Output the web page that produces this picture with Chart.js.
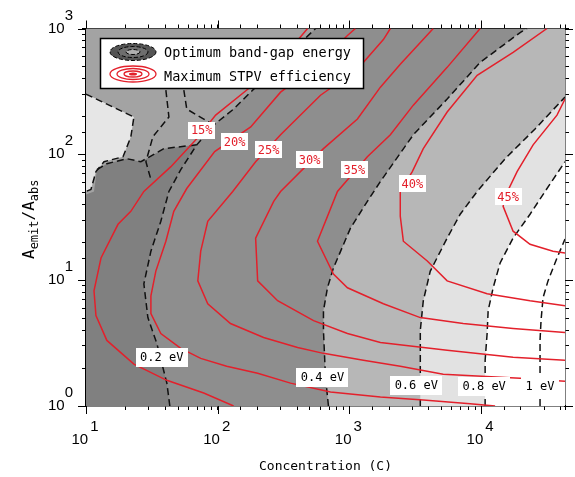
<!DOCTYPE html>
<html>
<head>
<meta charset="utf-8">
<script src="https://cdn.jsdelivr.net/npm/chart.js@4.4.1/dist/chart.umd.min.js"></script>
<style>
  html, body { margin: 0; padding: 0; background: #fff; }
  #wrap { width: 575px; height: 477px; }
</style>
</head>
<body>
<div id="wrap"><canvas id="chart" width="575" height="477"></canvas></div>
<script>
// axis limits
const xMin = 10, xMax = 43300;
const yMin = 1, yMax = 1000;

// Maximum STPV efficiency contours, [concentration, A_emit/A_abs]
const eff15 = [[481,1000],[300,558],[169,329],[96.5,205],[69.3,133],[44.1,79.8],[27.5,50.7],[21.9,35.2],[17.5,27.8],[13.0,15.0],[11.5,8.23],[11.9,5.23],[14.4,3.32],[23.1,2.15],[41.1,1.60],[78.3,1.27],[132,1]];
const eff20 = [[1110,1000],[966,879],[603,538],[300,312],[178,165],[94.8,105],[58.2,53.5],[46.4,35.2],[40.4,20.4],[33.9,11.8],[31.1,7.52],[31.1,5.42],[37.0,3.77],[52.4,2.87],[74.3,2.39],[117,2.07],[201,1.82],[357,1.52],[718,1.29],[1718,1.18],[3636,1.115],[8254,1.04],[12760,1]];
const eff25 = [[2045,1000],[1810,817],[1150,474],[603,295],[300,143],[194,87.4],[130,50.7],[84.0,29.4],[74.3,17.0],[70.6,9.87],[84.0,6.50],[125,4.52],[223,3.50],[404,2.92],[635,2.62],[1276,2.31],[2432,2.07],[5150,1.79],[19750,1.66],[xMax,1.57]];
const eff30 = [[4329,1000],[2432,519],[1718,342],[1150,191],[635,111],[300,50.7],[266,42.3],[194,21.6],[201,9.87],[285,6.86],[534,4.77],[966,3.77],[1718,3.20],[5519,2.77],[17480,2.44],[xMax,2.31]];
const eff35 = [[9826,1000],[5519,491],[3054,246],[2045,143],[1368,95.7],[811,50.7],[572,20.4],[756,11.2],[966,8.70],[1810,6.50],[3451,5.04],[7305,4.52],[17480,4.13],[xMax,3.84]];
const eff40 = [[31620,1000],[17480,646],[9327,425],[5519,217],[3636,111],[3000,72.9],[2432,50.7],[2432,32.2],[2566,20.4],[3899,14.2],[5519,9.87],[11100,7.80],[23500,6.86],[xMax,6.27]];
const eff45 = [[xMax,275],[37640,205],[24800,119],[18740,72.9],[15200,46.3],[14680,38.6],[17480,24.5],[23500,19.3],[35110,17.0],[xMax,16.4]];
const effNames = ['15%', '20%', '25%', '30%', '35%', '40%', '45%'];
const effLabelAt = [[75.6,156],[134.5,126],[243,109],[498,90.7],[1091,75.6],[3000,58.6],[16020,46.3]];

// Optimum band-gap energy contours
const gap02 = [[43.3,1],[41.1,1.52],[34.5,3.14],[29.5,5.04],[27.5,9.35],[31.1,17.0],[37.0,29.4],[42.6,50.7],[52.4,75.5],[69.3,119],[93.3,171],[132,229],[201,354],[357,646],[553,1000]];
const gap04 = [[693,1],[658,1.69],[635,3.98],[635,5.72],[681,8.70],[756,12.5],[1018,25.9],[1368,42.3],[1718,60.8],[3054,143],[5519,275],[9826,538],[19750,928],[22300,1000]];
const gap06 = [[3451,1],[3451,3.98],[3636,6.86],[4109,11.8],[5519,21.6],[6930,33.4],[9327,50.7],[15200,92.3],[25650,159],[xMax,285]];
const gap08 = [[10720,1],[10720,2.31],[11100,3.77],[11300,5.72],[12330,8.70],[13930,13.7],[17480,21.6],[23500,33.4],[30550,50.7],[xMax,87.4]];
const gap10 = [[27990,1],[27990,3.32],[28480,4.77],[29490,7.25],[32180,9.87],[37640,15.0],[xMax,21.2]];
const gapNames = ['0.2 eV', '0.4 eV', '0.6 eV', '0.8 eV', '1 eV'];
const gapLabelAt = [[37.6,2.44],[624,1.69],[3218,1.46],[10540,1.44],[27990,1.44]];

// noisy corner at low concentration / high area ratio
const lightPatch = [[xMin,301],[23.1,198],[21.9,138],[19.1,95.7],[13.7,87.4],[11.9,72.9],[10.9,52.6],[xMin,50.7]];
const noiseA = [[55.3,324],[58.2,229],[93.3,171]];
const noiseB = [[40.4,324],[42.6,198],[32.2,138],[28.5,87.4],[31.1,63.0]];
const noiseC = [[12.1,75.5],[14.4,84.3],[20.4,92.3],[26.1,87.4],[39.0,111],[69.3,119]];

const RED = '#e3202b';

function pts(arr) {
    return arr.map(p => ({ x: p[0], y: p[1] }));
}

function area(arr, color) {
    return { data: pts(arr), showLine: true, fill: 'shape', backgroundColor: color,
             borderWidth: 0, pointRadius: 0, tension: 0 };
}

function curve(arr, color, dashed) {
    return { data: pts(arr), showLine: true, fill: false, borderColor: color,
             borderWidth: 1.5, borderDash: dashed ? [7, 4] : [], pointRadius: 0, tension: 0 };
}

// grey bands, bottom layer first
const darkEdge = gap02.slice(0, 9).concat(noiseC.slice().reverse(), [[11.5,50.7],[xMin,48],[xMin,yMin]]);
const datasets = [
    area([[xMin,yMin],[xMax,yMin],[xMax,yMax],[xMin,yMax]], '#8e8e8e'),
    area(gap02.concat([[xMin,yMax],[xMin,yMin]]), '#a3a3a3'),
    area(darkEdge, '#808080'),
    area(lightPatch, '#e6e6e6'),
    area(gap04.concat([[xMax,yMax],[xMax,yMin]]), '#b7b7b7'),
    area(gap06.concat([[xMax,yMin]]), '#e2e2e2'),
    area(gap08.concat([[xMax,yMin]]), '#ffffff'),
    curve(lightPatch, '#111', true),
    curve(noiseA, '#111', true),
    curve(noiseB, '#111', true),
    curve(noiseC, '#111', true)
];
[gap02, gap04, gap06, gap08, gap10].forEach(g => datasets.push(curve(g, '#111', true)));
[eff15, eff20, eff25, eff30, eff35, eff40, eff45].forEach(e => datasets.push(curve(e, RED, false)));
// later datasets on top
datasets.forEach((d, i) => { d.order = datasets.length - i; });

function tag(ctx, text, x, y, color, padX, h) {
    const w = ctx.measureText(text).width + padX;
    ctx.fillStyle = '#fff';
    ctx.fillRect(Math.round(x - w / 2), Math.round(y - h / 2), Math.round(w), h);
    ctx.fillStyle = color;
    ctx.fillText(text, x, y + 1);
}

const contourLabels = {
    id: 'contourLabels',
    afterDatasetsDraw(chart) {
        const ctx = chart.ctx, xs = chart.scales.x, ys = chart.scales.y;
        ctx.save();
        ctx.textAlign = 'center';
        ctx.textBaseline = 'middle';
        ctx.font = '12px "DejaVu Sans Mono"';
        effNames.forEach((t, i) => {
            tag(ctx, t, xs.getPixelForValue(effLabelAt[i][0]), ys.getPixelForValue(effLabelAt[i][1]), RED, 5, 17);
        });
        gapNames.forEach((t, i) => {
            tag(ctx, t, xs.getPixelForValue(gapLabelAt[i][0]), ys.getPixelForValue(gapLabelAt[i][1]), '#000', 9, 19);
        });

        // legend box
        const L = 100, T = 38, W = 263, H = 50;
        ctx.fillStyle = '#fff';
        ctx.fillRect(L, T, W, H);
        ctx.lineWidth = 1.5;
        ctx.strokeStyle = '#000';
        ctx.strokeRect(L + 0.5, T + 0.5, W, H);

        // icon: band-gap (grey rings, dashed edge)
        const cx = 133;
        [[23, 8.5, '#555'], [15, 5.5, '#6e6e6e'], [7, 2.5, '#b0b0b0']].forEach(r => {
            ctx.beginPath();
            ctx.ellipse(cx, 52, r[0], r[1], 0, 0, Math.PI * 2);
            ctx.fillStyle = r[2];
            ctx.fill();
            ctx.setLineDash([4, 2]);
            ctx.lineWidth = 1;
            ctx.strokeStyle = '#000';
            ctx.stroke();
        });
        ctx.setLineDash([]);
        // icon: efficiency (red rings)
        ctx.strokeStyle = RED;
        ctx.lineWidth = 1.3;
        [[23, 8], [16, 5.5], [9, 3]].forEach(r => {
            ctx.beginPath();
            ctx.ellipse(cx, 74, r[0], r[1], 0, 0, Math.PI * 2);
            ctx.stroke();
        });
        ctx.beginPath();
        ctx.ellipse(cx, 74, 4, 1.5, 0, 0, Math.PI * 2);
        ctx.fillStyle = RED;
        ctx.fill();

        ctx.fillStyle = '#000';
        ctx.textAlign = 'left';
        ctx.font = '13.5px "DejaVu Sans Mono"';
        ctx.fillText('Optimum band-gap energy', 164, 53);
        ctx.fillText('Maximum STPV efficiency', 164, 77);
        ctx.restore();
    },
    afterDraw(chart) {
        const ctx = chart.ctx;
        const a = chart.chartArea;

        // longer tick marks at the decades, on all four sides
        ctx.save();
        ctx.strokeStyle = '#000';
        ctx.lineWidth = 1;
        ctx.beginPath();
        [10, 100, 1000, 10000].forEach(v => {
            const px = Math.round(chart.scales.x.getPixelForValue(v)) + 0.5;
            ctx.moveTo(px, a.bottom); ctx.lineTo(px, a.bottom + 8);
            ctx.moveTo(px, a.top); ctx.lineTo(px, a.top - 8);
        });
        [1, 10, 100, 1000].forEach(v => {
            const py = Math.round(chart.scales.y.getPixelForValue(v)) + 0.5;
            ctx.moveTo(a.left, py); ctx.lineTo(a.left - 8, py);
            ctx.moveTo(a.right, py); ctx.lineTo(a.right + 8, py);
        });
        ctx.stroke();

        // y axis title with subscripts
        const parts = [['A', 16, 0], ['emit', 12, 4], ['/A', 16, 0], ['abs', 12, 4]];
        ctx.translate(34, (a.top + a.bottom) / 2 + 2);
        ctx.rotate(-Math.PI / 2);
        let total = 0;
        parts.forEach(p => {
            ctx.font = p[1] + 'px "DejaVu Sans Mono"';
            total += ctx.measureText(p[0]).width;
        });
        let x = -total / 2;
        ctx.fillStyle = '#000';
        ctx.textBaseline = 'alphabetic';
        parts.forEach(p => {
            ctx.font = p[1] + 'px "DejaVu Sans Mono"';
            ctx.fillText(p[0], x, p[2]);
            x += ctx.measureText(p[0]).width;
        });
        ctx.restore();
    }
};

function isDecade(v) {
    const e = Math.log10(v);
    return Math.abs(e - Math.round(e)) < 1e-6;
}

const tickFont = { family: '"Liberation Sans", Arial, sans-serif', size: 15, lineHeight: '13px' };

function edgeAxis(pos, lo, hi, size) {
    return {
        type: 'logarithmic', position: pos, min: lo, max: hi, z: 1,
        grid: { drawOnChartArea: false, color: '#000', tickLength: 4, tickWidth: 1 },
        border: { display: true, color: '#000', width: 1.5 },
        ticks: { display: false, autoSkip: false },
        afterFit(scale) {
            if (pos === 'top' || pos === 'bottom') scale.height = size; else scale.width = size;
        }
    };
}

const xAxis = edgeAxis('bottom', xMin, xMax, 71);
xAxis.ticks = {
    display: true, autoSkip: false, maxRotation: 0, padding: 10, color: '#000', font: tickFont,
    callback: v => isDecade(v) ? ['    ' + Math.round(Math.log10(v)), '10   '] : ''
};
xAxis.title = { display: true, text: 'Concentration (C)', color: '#000',
                font: { family: '"DejaVu Sans Mono"', size: 13 }, padding: { top: 0, bottom: 3 } };

const yAxis = edgeAxis('left', yMin, yMax, 86);
yAxis.ticks = {
    display: true, autoSkip: false, padding: 9, color: '#000', font: tickFont,
    callback: v => isDecade(v) ? [String(Math.round(Math.log10(v))), '10  ', ''] : ''
};

new Chart(document.getElementById('chart'), {
    type: 'scatter',
    data: { datasets: datasets },
    options: {
        responsive: false,
        animation: false,
        events: [],
        layout: { padding: 0 },
        plugins: { legend: { display: false }, tooltip: { enabled: false } },
        scales: {
            x: xAxis,
            x2: edgeAxis('top', xMin, xMax, 26),
            y: yAxis,
            y2: edgeAxis('right', yMin, yMax, 10)
        }
    },
    plugins: [contourLabels]
});
</script>
</body>
</html>
